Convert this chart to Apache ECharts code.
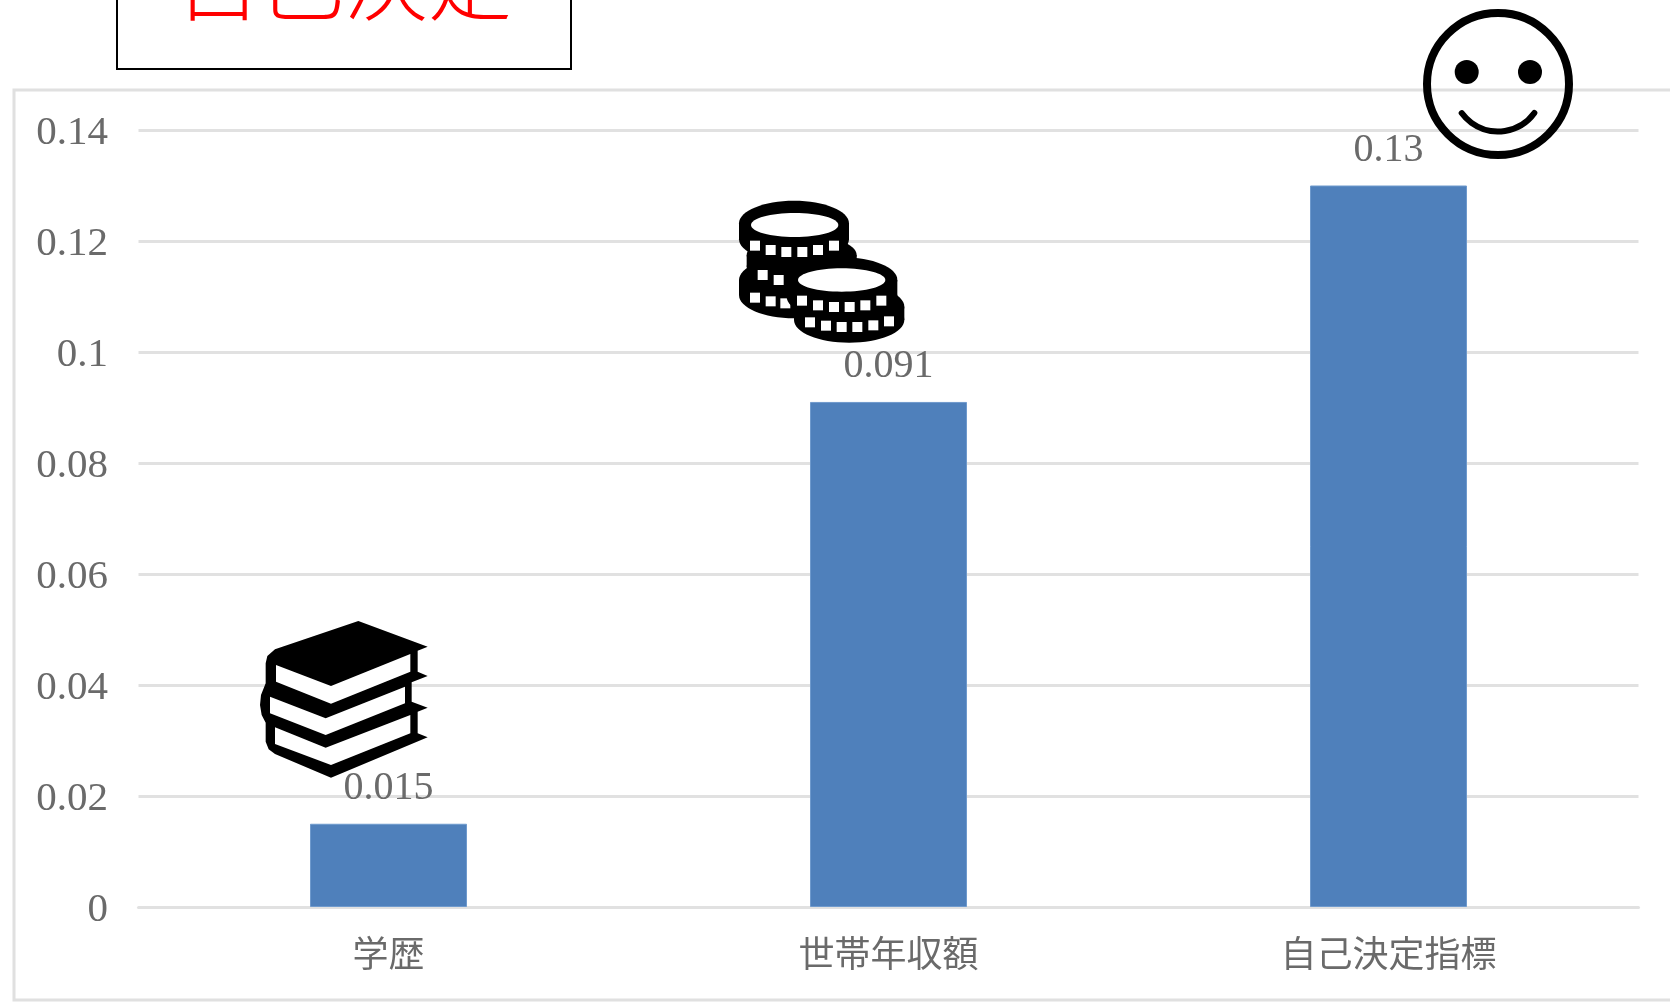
<!DOCTYPE html>
<html lang="ja">
<head>
<meta charset="utf-8">
<title>自己決定</title>
<script src="https://cdn.jsdelivr.net/npm/echarts@6/dist/echarts.min.js"></script>
<style>
  html, body { margin: 0; padding: 0; background: #fff; }
  #chart { width: 1670px; height: 1003px; }
</style>
</head>
<body>
<div id="chart"></div>
<script>
const categories = ['学歴', '世帯年収額', '自己決定指標']
const values = [0.015, 0.091, 0.13]
const titleText = '自己決定'

const lineColor = '#e1e1e1'
const textColor = '#6a6a6a'

// icons are drawn in the pixel space of a 3x crop, the group scales them back
const poly = (points, fill) => ({ type: 'polygon', z: 10, shape: { points }, style: { fill } })
const oval = (cx, cy, rx, ry, fill) => ({ type: 'ellipse', z: 10, shape: { cx, cy, rx, ry }, style: { fill } })
const box = (x, y, width, height, fill) => ({ type: 'rect', z: 10, shape: { x, y, width, height }, style: { fill } })

const booksIcon = {
  type: 'group', x: 230, y: 600, scaleX: 1 / 3, scaleY: 1 / 3,
  children: [
    poly([[385, 63], [593, 140], [563, 152], [563, 215], [593, 228], [545, 247], [545, 305], [593, 323], [563, 335], [563, 400], [593, 412], [303, 533], [135, 462], [116, 448], [107, 425], [107, 368], [95, 345], [90, 315], [93, 285], [107, 250], [107, 190], [112, 168], [135, 148]], '#000'),
    poly([[138, 195], [303, 258], [541, 162], [541, 215], [303, 311], [138, 245]], '#fff'),
    poly([[120, 290], [287, 355], [525, 260], [525, 310], [287, 405], [120, 340]], '#fff'),
    poly([[135, 382], [287, 443], [541, 345], [541, 400], [303, 495], [135, 432]], '#fff')
  ]
}

const coinBody = (x1, x2, y1, y2, ry) => {
  const cx = (x1 + x2) / 2
  const rx = (x2 - x1) / 2
  return [oval(cx, y1, rx, ry, '#000'), box(x1, y1, x2 - x1, y2 - y1, '#000'), oval(cx, y2, rx, ry, '#000')]
}
const dashes = (list) => list.map((p) => box(p[0] - 15, p[1] - 15, 30, 30, '#fff'))

const coinsIcon = {
  type: 'group', x: 720, y: 180, scaleX: 1 / 3, scaleY: 1 / 3,
  children: [
    ...coinBody(80, 410, 225, 260, 60),
    ...coinBody(57, 387, 300, 345, 70),
    ...coinBody(57, 387, 130, 178, 68),
    oval(224, 135, 131, 36, '#fff'),
    ...dashes([[105, 197], [152, 210], [199, 216], [247, 216], [294, 210], [342, 197]]),
    ...dashes([[128, 285], [176, 300], [105, 353], [152, 364], [196, 370]]),
    ...coinBody(222, 553, 380, 420, 68),
    ...coinBody(200, 532, 300, 350, 68),
    oval(365, 300, 131, 35, '#fff'),
    ...dashes([[246, 362], [294, 376], [342, 381], [389, 381], [436, 376], [484, 362]]),
    ...dashes([[270, 427], [318, 437], [365, 441], [412, 441], [460, 436], [507, 424]])
  ]
}

const smileIcon = {
  type: 'group', x: 1340, y: 0,
  children: [
    { type: 'circle', z: 10, shape: { cx: 158, cy: 84, r: 71 }, style: { fill: 'transparent', stroke: '#000', lineWidth: 8 } },
    { type: 'circle', z: 10, shape: { cx: 126.7, cy: 72, r: 12 }, style: { fill: '#000' } },
    { type: 'circle', z: 10, shape: { cx: 190, cy: 72, r: 12 }, style: { fill: '#000' } },
    { type: 'arc', z: 10, shape: { cx: 158, cy: 86.5, r: 45, startAngle: 0.63, endAngle: 2.51, clockwise: true }, style: { fill: 'none', stroke: '#000', lineWidth: 6, lineCap: 'round' } }
  ]
}

const chart = echarts.init(document.getElementById('chart'))
chart.setOption({
  animation: false,
  backgroundColor: '#fff',
  grid: { left: 138.5, right: 31.5, top: 130, bottom: 96 },
  xAxis: {
    type: 'category',
    data: categories,
    axisTick: { show: false },
    axisLine: { lineStyle: { color: lineColor, width: 3 } },
    axisLabel: { color: textColor, fontFamily: 'Noto Sans CJK JP', fontSize: 36, margin: 28 }
  },
  yAxis: {
    type: 'value',
    min: 0,
    max: 0.14,
    interval: 0.02,
    axisLine: { show: false },
    axisTick: { show: false },
    splitLine: { lineStyle: { color: lineColor, width: 3 } },
    axisLabel: {
      margin: 30.5,
      formatter: '{v|{value}}',
      rich: { v: { color: textColor, fontFamily: 'Liberation Serif', fontSize: 41, padding: [6, 0, 0, 0] } }
    }
  },
  series: [
    {
      type: 'bar',
      data: values,
      barWidth: 157,
      itemStyle: { color: '#4f80bb', borderColor: '#6f9acd', borderWidth: 1 },
      label: {
        show: true,
        position: 'top',
        distance: 15,
        color: textColor,
        fontFamily: 'Liberation Serif',
        fontSize: 40
      }
    }
  ],
  graphic: [
    { type: 'rect', z: -1, shape: { x: 14, y: 90, width: 1700, height: 910 }, style: { fill: 'transparent', stroke: '#e0e0e0', lineWidth: 3 } },
    { type: 'rect', z: 10, shape: { x: 117, y: -40, width: 454, height: 109 }, style: { fill: '#fff', stroke: '#000', lineWidth: 2 } },
    { type: 'text', z: 11, x: 344, y: 24, style: { text: titleText, fill: '#ff0000', font: '300 84px "Noto Sans CJK JP"', textAlign: 'center', textVerticalAlign: 'bottom' } },
    booksIcon,
    coinsIcon,
    smileIcon
  ]
})
</script>
</body>
</html>
